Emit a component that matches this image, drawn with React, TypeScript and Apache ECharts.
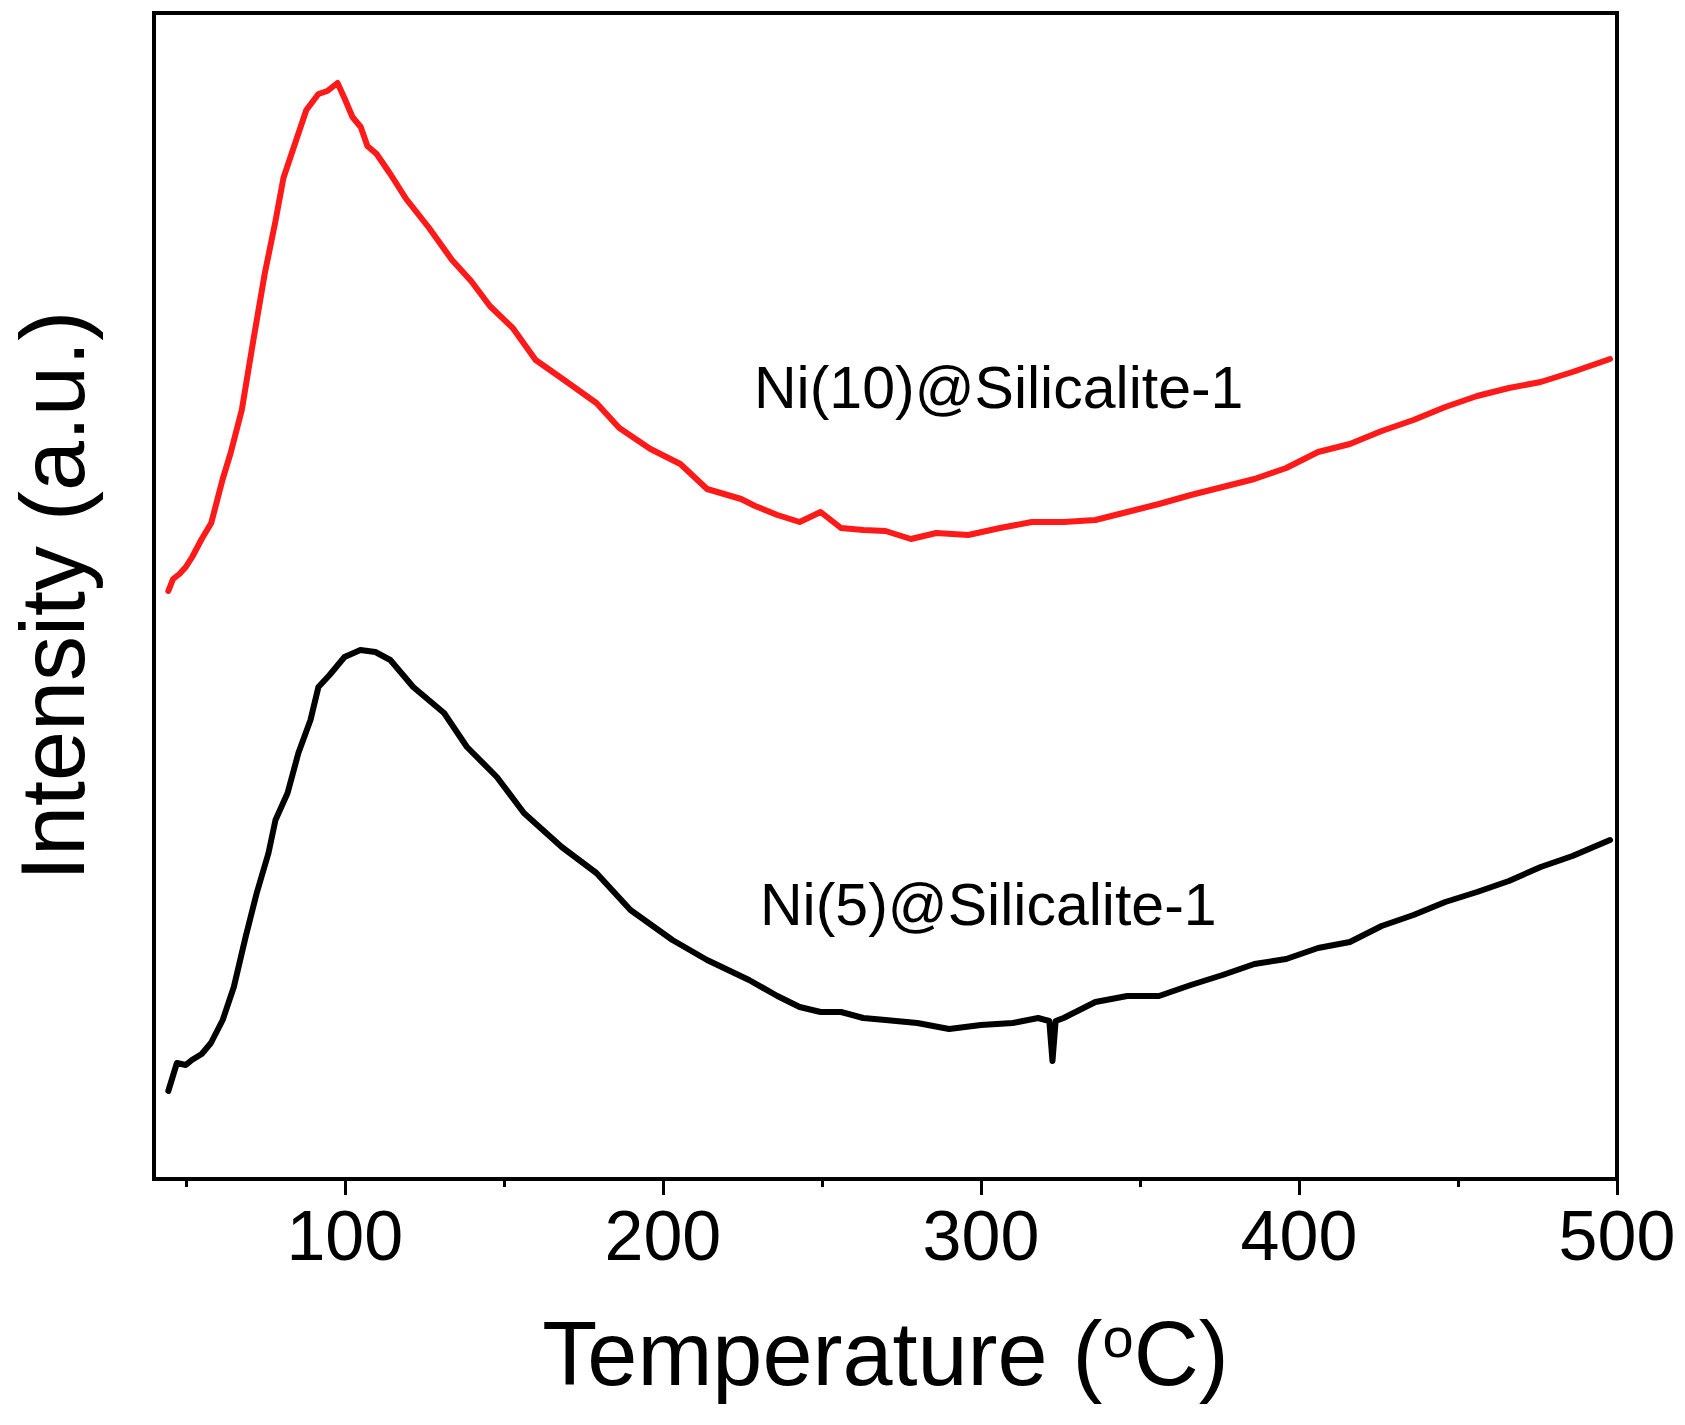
import React, { useEffect, useRef } from "react";
import * as echarts from "echarts";

// temperature (°C) and signal (arbitrary units)
const redTemp = [44.5, 46, 48, 50, 52, 55, 58, 61.6, 64.1, 67.6, 71.3, 74.8, 78.2, 80.7, 84.5, 87.9, 91.7, 94.5, 97.7, 100, 102.4, 105, 107.1, 110, 114.3, 119.3, 126.5, 133.7, 139.7, 145.6, 152.8, 160, 169.4, 179.1, 186.3, 196.1, 205.5, 213.9, 224.6, 229, 236, 243, 249.6, 256, 263, 270, 278, 286, 296, 306, 316, 326, 336, 346, 356, 366, 376, 386, 396, 406, 416, 426, 436, 446, 456, 466, 476, 486, 497.8];
const redSignal = [588, 600, 605, 612, 622, 640, 656, 700, 726, 769, 840, 905, 958, 1001, 1037, 1069, 1085, 1088, 1096, 1080, 1062, 1052, 1033, 1025, 1005, 980, 951, 919, 898, 873, 851, 819, 798, 776, 751, 730, 715, 690, 680, 673, 664, 657, 667, 651, 649, 648, 640, 646, 644, 651, 657, 657, 659, 667, 675, 684, 692, 700, 711, 727, 735, 748, 759, 772, 783, 791, 797, 807, 820];

const blackTemp = [44.5, 47.2, 50, 51.9, 55, 57.9, 61.6, 65.1, 68.8, 72.3, 76, 78.2, 82, 85.4, 89.2, 91.7, 95.2, 99.9, 104.9, 109.6, 114.3, 121.5, 131.2, 138.4, 147.8, 156.3, 168.2, 179.1, 189.8, 203, 213.9, 227.1, 236, 243, 249.6, 256, 263, 270, 280, 290, 300, 310, 318, 321.5, 322.5, 323.5, 326, 336, 346, 356, 366, 376, 386, 396, 406, 416, 426, 436, 446, 456, 466, 476, 486, 497.8];
const blackSignal = [88, 116, 114, 119, 125, 136, 159, 192, 242, 286, 326, 359, 386, 426, 459, 492, 504, 522, 529, 527, 519, 492, 466, 432, 402, 366, 332, 306, 269, 239, 219, 199, 183, 172, 167, 167, 161, 159, 156, 150, 154, 156, 161, 158, 118, 158, 161, 177, 183, 183, 194, 204, 215, 220, 231, 237, 253, 264, 277, 287, 298, 312, 323, 339];

const majorTicks = [100, 200, 300, 400, 500];
const minorTicks = [50, 150, 250, 350, 450];

const FONT = "'Liberation Sans', Arial, sans-serif";

const App = () => {
  const chartRef = useRef(null);

  useEffect(() => {
    const chart = echarts.init(chartRef.current, null, { renderer: "svg" });
    chart.setOption({
      animation: false,
      backgroundColor: "#ffffff",
      grid: {
        left: 150,
        right: 68,
        top: 13,
        bottom: 246,
        show: true,
        borderColor: "#000",
        borderWidth: 4,
      },
      xAxis: [
        {
          type: "value",
          min: 40,
          max: 500,
          splitLine: { show: false },
          axisLine: { show: true, lineStyle: { color: "#000", width: 4 } },
          axisTick: {
            show: true,
            customValues: majorTicks,
            length: 16,
            lineStyle: { color: "#000", width: 3 },
          },
          axisLabel: {
            customValues: majorTicks,
            margin: 22,
            fontSize: 70,
            fontFamily: FONT,
            color: "#000",
          },
          name: "{a|Temperature (}{s|o}{a|C)}",
          nameLocation: "middle",
          nameGap: 130,
          nameTextStyle: {
            fontFamily: FONT,
            fontSize: 90,
            color: "#000",
            rich: {
              a: { fontFamily: FONT, fontSize: 90, color: "#000" },
              s: { fontFamily: FONT, fontSize: 56, color: "#000", verticalAlign: "top" },
            },
          },
        },
        {
          type: "value",
          min: 40,
          max: 500,
          position: "bottom",
          splitLine: { show: false },
          axisLine: { show: false },
          axisTick: {
            show: true,
            customValues: minorTicks,
            length: 8,
            lineStyle: { color: "#000", width: 3 },
          },
          axisLabel: { show: false },
        },
      ],
      yAxis: {
        type: "value",
        min: 0,
        max: 1166,
        splitLine: { show: false },
        axisTick: { show: false },
        axisLabel: { show: false },
        axisLine: { show: true, lineStyle: { color: "#000", width: 4 } },
        name: "Intensity (a.u.)",
        nameLocation: "middle",
        nameGap: 56,
        nameTextStyle: { fontFamily: FONT, fontSize: 90, color: "#000" },
      },
      series: [
        {
          name: "Ni(10)@Silicalite-1",
          type: "line",
          showSymbol: false,
          symbol: "none",
          data: redTemp.map((t, i) => [t, redSignal[i]]),
          lineStyle: { color: "#ff1a1a", width: 6, join: "round", cap: "round" },
        },
        {
          name: "Ni(5)@Silicalite-1",
          type: "line",
          showSymbol: false,
          symbol: "none",
          data: blackTemp.map((t, i) => [t, blackSignal[i]]),
          lineStyle: { color: "#000", width: 6, join: "round", cap: "round" },
        },
      ],
      graphic: [
        {
          type: "text",
          x: 754,
          y: 388,
          style: {
            text: "Ni(10)@Silicalite-1",
            font: `59px ${FONT}`,
            fill: "#000",
            textAlign: "left",
            textVerticalAlign: "middle",
          },
        },
        {
          type: "text",
          x: 760,
          y: 905,
          style: {
            text: "Ni(5)@Silicalite-1",
            font: `59px ${FONT}`,
            fill: "#000",
            textAlign: "left",
            textVerticalAlign: "middle",
          },
        },
      ],
    });

    return () => {
      chart.dispose();
    };
  }, []);

  return (
    <div
      ref={chartRef}
      style={{ position: "absolute", left: 0, top: 0, width: "1685px", height: "1425px" }}
    ></div>
  );
};

export default App;
